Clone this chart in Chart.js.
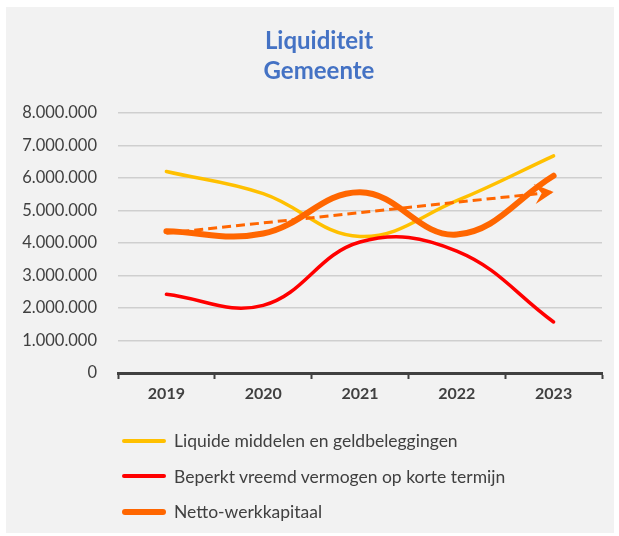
<!DOCTYPE html>
<html>
<head>
<meta charset="utf-8">
<script src="https://cdn.jsdelivr.net/npm/chart.js@4.4.1/dist/chart.umd.min.js"></script>
<style>
  html, body { margin: 0; padding: 0; background: #ffffff; }
  #panel {
    position: absolute; left: 6px; top: 7px; width: 608px; height: 526px;
    background: #f2f2f2;
  }
  #chart { position: absolute; left: 0; top: 0; width: 608px; height: 526px; }
  #legend {
    position: absolute; left: 116px; top: 416px;
    font-family: Lato, "Open Sans", sans-serif; font-size: 17.5px; color: #404040;
  }
  .item { display: flex; align-items: center; height: 35.5px; }
  .swatch { width: 44px; border-radius: 3px; margin-right: 8px; }
</style>
</head>
<body>
<div id="panel">
  <canvas id="chart" width="608" height="526"></canvas>
  <div id="legend"></div>
</div>
<script>
// Jaren en saldi (in euro's)
const years = ['2019', '2020', '2021', '2022', '2023'];
const liquideMiddelen = [6200000, 5520000, 4200000, 5300000, 6680000];
const beperktVreemdVermogen = [2420000, 2080000, 4030000, 3750000, 1570000];
const nettoWerkkapitaal = [4360000, 4290000, 5560000, 4260000, 6070000];
// Lineaire trend netto-werkkapitaal: begin- en eindwaarde
const trendNetto = [4300000, null, null, null, 5570000];
const yTicks = [0, 1000000, 2000000, 3000000, 4000000, 5000000, 6000000, 7000000, 8000000];

const fmt = v => String(Math.round(v)).replace(/\B(?=(\d{3})+(?!\d))/g, '.');

// Titel iets naar rechts, boven het midden van het plotgebied
const titleShift = {
  id: 'titleShift',
  afterLayout(chart) {
    if (chart.titleBlock) { chart.titleBlock.left += 8; chart.titleBlock.right += 8; }
  }
};

// Pijlpunt (stealth) aan het eind van de trendlijn
const trendArrow = {
  id: 'trendArrow',
  afterDatasetsDraw(chart) {
    const idx = chart.data.datasets.findIndex(d => d.isTrend);
    const pts = chart.getDatasetMeta(idx).data.filter((p, i) => trendNetto[i] !== null);
    if (pts.length < 2) return;
    const a = pts[0], b = pts[pts.length - 1];
    const ang = Math.atan2(b.y - a.y, b.x - a.x);
    const ctx = chart.ctx;
    const len = 19, half = 10, notch = 12;
    ctx.save();
    ctx.translate(b.x, b.y);
    ctx.rotate(ang);
    ctx.fillStyle = '#FF6600';
    ctx.beginPath();
    ctx.moveTo(0, 0);
    ctx.lineTo(-len, -half);
    ctx.lineTo(-notch, 0);
    ctx.lineTo(-len, half);
    ctx.closePath();
    ctx.fill();
    ctx.restore();
  }
};

const datasets = [
  { label: 'Liquide middelen en geldbeleggingen', data: liquideMiddelen,
    borderColor: '#FFC000', borderWidth: 3.5, order: 3 },
  { label: 'Beperkt vreemd vermogen op korte termijn', data: beperktVreemdVermogen,
    borderColor: '#FF0000', borderWidth: 3.5, order: 2 },
  { label: 'Netto-werkkapitaal', data: nettoWerkkapitaal,
    borderColor: '#FF6600', borderWidth: 6, order: 1 },
  { label: 'Lineair (Netto-werkkapitaal)', data: trendNetto, isTrend: true,
    borderColor: '#FF6600', borderWidth: 3, borderDash: [9, 5], borderCapStyle: 'butt',
    tension: 0, spanGaps: true, order: 0 }
];

const chart = new Chart(document.getElementById('chart'), {
  type: 'line',
  data: { labels: years, datasets: datasets.map(d => Object.assign({
    fill: false, pointRadius: 0, pointHoverRadius: 0, tension: 0.4,
    borderCapStyle: 'round', borderJoinStyle: 'round'
  }, d)) },
  plugins: [trendArrow, titleShift],
  options: {
    responsive: false,
    animation: false,
    events: [],
    layout: { padding: { left: 14, right: 12, top: 0, bottom: 120 } },
    plugins: {
      legend: { display: false },
      tooltip: { enabled: false },
      title: {
        display: true,
        text: ['Liquiditeit', 'Gemeente'],
        color: '#4472C4',
        font: { family: 'Lato, "Open Sans", sans-serif', size: 24, weight: 'bold', lineHeight: 1.27 },
        padding: { top: 19, bottom: 26 }
      }
    },
    scales: {
      x: {
        offset: true,
        afterFit(s) { s.height = 40; },
        grid: { offset: true, drawOnChartArea: false, drawTicks: true, tickLength: 6,
                tickColor: '#404040', tickWidth: 2 },
        border: { display: true, color: '#404040', width: 3 },
        ticks: { color: '#404040', padding: 5,
                 font: { family: 'Lato, "Open Sans", sans-serif', size: 16, weight: 'bold' } }
      },
      y: {
        min: 0, max: 8000000,
        afterFit(s) { s.width = 98; },
        afterBuildTicks(s) { s.ticks = yTicks.map(v => ({ value: v })); },
        grid: { color: '#cfcfcf', lineWidth: 1.5, drawTicks: false },
        border: { display: false },
        ticks: { color: '#404040', padding: 21, callback: v => fmt(v),
                 font: { family: 'Lato, "Open Sans", sans-serif', size: 16.5 } }
      }
    }
  }
});

// Legenda onder de grafiek
const legend = document.getElementById('legend');
datasets.filter(d => !d.isTrend).forEach(d => {
  const row = document.createElement('div');
  row.className = 'item';
  const sw = document.createElement('span');
  sw.className = 'swatch';
  sw.style.background = d.borderColor;
  sw.style.height = (d.borderWidth > 4 ? 6 : 4) + 'px';
  const txt = document.createElement('span');
  txt.textContent = d.label;
  row.appendChild(sw);
  row.appendChild(txt);
  legend.appendChild(row);
});
</script>
</body>
</html>
